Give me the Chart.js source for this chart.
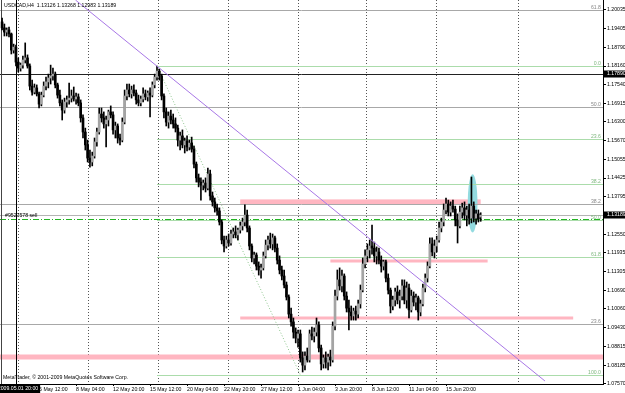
<!DOCTYPE html>
<html>
<head>
<meta charset="utf-8">
<script src="https://cdn.jsdelivr.net/npm/chart.js@4.4.0/dist/chart.umd.min.js"></script>
<style>
  html, body { margin: 0; padding: 0; background: #fff; }
  canvas { display: block; }
</style>
</head>
<body>
<canvas id="grafico" width="625" height="393"></canvas>
<script>
// USDCAD H4, una vela por indice (0 = 2009.05.01 00:00)
const barOpen = [
  1.1963, 1.1943, 1.1929, 1.1936, 1.1923, 1.1869, 1.1879, 1.1829, 1.1809, 1.1819,
  1.1836, 1.1843, 1.1816, 1.1749, 1.1729, 1.1743, 1.1723, 1.1689, 1.1719, 1.1749,
  1.1763, 1.1776, 1.1783, 1.1789, 1.1753, 1.1719, 1.1693, 1.1669, 1.1696, 1.1703,
  1.1709, 1.1716, 1.1706, 1.1713, 1.1693, 1.1643, 1.1596, 1.1553, 1.1509, 1.1496,
  1.1516, 1.1563, 1.1596, 1.1656, 1.1643, 1.1623, 1.1636, 1.1663, 1.1653, 1.1603,
  1.1616, 1.1576, 1.1569, 1.1629, 1.1716, 1.1736, 1.1723, 1.1736, 1.1726, 1.1703,
  1.1693, 1.1706, 1.1723, 1.1713, 1.1726, 1.1719, 1.1753, 1.1779, 1.1799, 1.1783,
  1.1716, 1.1663, 1.1629, 1.1649, 1.1636, 1.1623, 1.1609, 1.1569, 1.1583, 1.1553,
  1.1566, 1.1546, 1.1559, 1.1539, 1.1489, 1.1443, 1.1429, 1.1419, 1.1426, 1.1409,
  1.1456, 1.1383, 1.1363, 1.1343, 1.1333, 1.1296, 1.1236, 1.1216, 1.1236, 1.1226,
  1.1256, 1.1263, 1.1253, 1.1269, 1.1283, 1.1296, 1.1319, 1.1276, 1.1216, 1.1176,
  1.1186, 1.1149, 1.1136, 1.1143, 1.1183, 1.1219, 1.1236, 1.1223, 1.1243, 1.1209,
  1.1169, 1.1136, 1.1116, 1.1086, 1.1046, 1.0989, 1.0963, 1.0929, 1.0909, 1.0923,
  1.0843, 1.0819, 1.0849, 1.0836, 1.0923, 1.0916, 1.0929, 1.0953, 1.0876, 1.0823,
  1.0843, 1.0829, 1.0846, 1.0836, 1.0949, 1.1049, 1.1103, 1.1083, 1.1116, 1.1049,
  1.1009, 1.0996, 1.0983, 1.0999, 1.0989, 1.1023, 1.1069, 1.1156, 1.1183, 1.1203,
  1.1216, 1.1209, 1.1183, 1.1196, 1.1169, 1.1149, 1.1163, 1.1109, 1.1069, 1.1016,
  1.1036, 1.1063, 1.1036, 1.1049, 1.1083, 1.1036, 1.1076, 1.1003, 1.1049, 1.1029,
  1.1043, 1.0996, 1.1023, 1.1076, 1.1109, 1.1149, 1.1223, 1.1196, 1.1216, 1.1236,
  1.1276, 1.1296, 1.1336, 1.1356, 1.1329, 1.1349, 1.1339, 1.1303, 1.1283, 1.1329,
  1.1343, 1.1319, 1.1336, 1.1309, 1.1349, 1.1309, 1.1323, 1.13126
];
const barHigh = [
  1.1976, 1.1956, 1.1943, 1.1946, 1.1926, 1.1889, 1.1886, 1.1843, 1.1826, 1.1849,
  1.1893, 1.1853, 1.1823, 1.1769, 1.1756, 1.1753, 1.1729, 1.1729, 1.1763, 1.1779,
  1.1789, 1.1819, 1.1809, 1.1796, 1.1759, 1.1736, 1.1703, 1.1709, 1.1716, 1.1759,
  1.1736, 1.1746, 1.1726, 1.1723, 1.1703, 1.1653, 1.1609, 1.1569, 1.1536, 1.1529,
  1.1576, 1.1609, 1.1676, 1.1676, 1.1663, 1.1649, 1.1669, 1.1683, 1.1663, 1.1629,
  1.1623, 1.1589, 1.1643, 1.1736, 1.1756, 1.1756, 1.1749, 1.1753, 1.1736, 1.1719,
  1.1716, 1.1743, 1.1736, 1.1733, 1.1743, 1.1763, 1.1789, 1.1816, 1.1806, 1.1789,
  1.1723, 1.1676, 1.1663, 1.1669, 1.1656, 1.1643, 1.1619, 1.1596, 1.1603, 1.1576,
  1.1583, 1.1569, 1.1579, 1.1549, 1.1496, 1.1456, 1.1443, 1.1436, 1.1443, 1.1476,
  1.1469, 1.1396, 1.1376, 1.1356, 1.1343, 1.1303, 1.1249, 1.1249, 1.1256, 1.1269,
  1.1276, 1.1283, 1.1276, 1.1296, 1.1309, 1.1353, 1.1336, 1.1283, 1.1223, 1.1196,
  1.1193, 1.1163, 1.1156, 1.1196, 1.1236, 1.1249, 1.1259, 1.1256, 1.1249, 1.1223,
  1.1183, 1.1149, 1.1136, 1.1096, 1.1053, 1.1009, 1.0976, 1.0943, 1.0936, 1.0936,
  1.0863, 1.0863, 1.0876, 1.0936, 1.0946, 1.0943, 1.0976, 1.0963, 1.0886, 1.0853,
  1.0863, 1.0856, 1.0869, 1.0963, 1.1069, 1.1136, 1.1143, 1.1136, 1.1123, 1.1063,
  1.1036, 1.1016, 1.1009, 1.1016, 1.1036, 1.1086, 1.1176, 1.1203, 1.1223, 1.1236,
  1.1286, 1.1229, 1.1213, 1.1209, 1.1183, 1.1169, 1.1169, 1.1123, 1.1076, 1.1049,
  1.1076, 1.1083, 1.1069, 1.1103, 1.1103, 1.1096, 1.1089, 1.1069, 1.1063, 1.1056,
  1.1049, 1.1036, 1.1089, 1.1123, 1.1163, 1.1243, 1.1243, 1.1236, 1.1249, 1.1296,
  1.1309, 1.1356, 1.1376, 1.1369, 1.1363, 1.1369, 1.1349, 1.1323, 1.1349, 1.1359,
  1.1363, 1.1349, 1.1356, 1.1446, 1.1363, 1.1336, 1.1336, 1.13268
];
const barLow = [
  1.1936, 1.1916, 1.1916, 1.1913, 1.1856, 1.1859, 1.1816, 1.1796, 1.1799, 1.1809,
  1.1826, 1.1809, 1.1736, 1.1719, 1.1723, 1.1716, 1.1676, 1.1683, 1.1713, 1.1736,
  1.1743, 1.1756, 1.1769, 1.1743, 1.1709, 1.1683, 1.1636, 1.1659, 1.1679, 1.1689,
  1.1696, 1.1699, 1.1689, 1.1683, 1.1629, 1.1576, 1.1536, 1.1496, 1.1479, 1.1483,
  1.1509, 1.1549, 1.1589, 1.1629, 1.1609, 1.1546, 1.1616, 1.1643, 1.1589, 1.1576,
  1.1559, 1.1553, 1.1563, 1.1623, 1.1703, 1.1713, 1.1709, 1.1716, 1.1689, 1.1683,
  1.1683, 1.1696, 1.1703, 1.1699, 1.1646, 1.1713, 1.1743, 1.1769, 1.1769, 1.1703,
  1.1643, 1.1616, 1.1609, 1.1623, 1.1609, 1.1596, 1.1549, 1.1536, 1.1543, 1.1526,
  1.1533, 1.1536, 1.1529, 1.1476, 1.1429, 1.1413, 1.1369, 1.1403, 1.1396, 1.1403,
  1.1369, 1.1349, 1.1329, 1.1319, 1.1286, 1.1223, 1.1196, 1.1209, 1.1216, 1.1219,
  1.1243, 1.1243, 1.1236, 1.1259, 1.1269, 1.1283, 1.1263, 1.1203, 1.1163, 1.1156,
  1.1136, 1.1119, 1.1109, 1.1136, 1.1176, 1.1203, 1.1209, 1.1203, 1.1196, 1.1156,
  1.1123, 1.1103, 1.1076, 1.1036, 1.0976, 1.0949, 1.0909, 1.0893, 1.0879, 1.0829,
  1.0796, 1.0803, 1.0829, 1.0829, 1.0903, 1.0896, 1.0916, 1.0863, 1.0803, 1.0809,
  1.0809, 1.0803, 1.0816, 1.0829, 1.0936, 1.1036, 1.1069, 1.1063, 1.1036, 1.0996,
  1.0936, 1.0969, 1.0969, 1.0969, 1.0976, 1.1009, 1.1063, 1.1143, 1.1163, 1.1176,
  1.1189, 1.1163, 1.1156, 1.1156, 1.1129, 1.1136, 1.1096, 1.1056, 1.0993, 1.1003,
  1.1016, 1.1023, 1.1009, 1.1036, 1.1023, 1.1009, 1.0976, 1.0996, 1.1016, 1.1003,
  1.0969, 1.0983, 1.1016, 1.1063, 1.1096, 1.1143, 1.1183, 1.1176, 1.1196, 1.1229,
  1.1263, 1.1283, 1.1323, 1.1316, 1.1316, 1.1329, 1.1283, 1.1226, 1.1276, 1.1309,
  1.1303, 1.1283, 1.1289, 1.1293, 1.1296, 1.1289, 1.1296, 1.12983
];
const barClose = [
  1.1943, 1.1929, 1.1936, 1.1923, 1.1869, 1.1879, 1.1829, 1.1809, 1.1819, 1.1836,
  1.1843, 1.1816, 1.1749, 1.1729, 1.1743, 1.1723, 1.1689, 1.1719, 1.1749, 1.1763,
  1.1776, 1.1783, 1.1789, 1.1753, 1.1719, 1.1693, 1.1669, 1.1696, 1.1703, 1.1709,
  1.1716, 1.1706, 1.1713, 1.1693, 1.1643, 1.1596, 1.1553, 1.1509, 1.1496, 1.1516,
  1.1563, 1.1596, 1.1656, 1.1643, 1.1623, 1.1636, 1.1663, 1.1653, 1.1603, 1.1616,
  1.1576, 1.1569, 1.1629, 1.1716, 1.1736, 1.1723, 1.1736, 1.1726, 1.1703, 1.1693,
  1.1706, 1.1723, 1.1713, 1.1726, 1.1719, 1.1753, 1.1779, 1.1799, 1.1783, 1.1716,
  1.1663, 1.1629, 1.1649, 1.1636, 1.1623, 1.1609, 1.1569, 1.1583, 1.1553, 1.1566,
  1.1546, 1.1559, 1.1539, 1.1489, 1.1443, 1.1429, 1.1419, 1.1426, 1.1409, 1.1456,
  1.1383, 1.1363, 1.1343, 1.1333, 1.1296, 1.1236, 1.1216, 1.1236, 1.1226, 1.1256,
  1.1263, 1.1253, 1.1269, 1.1283, 1.1296, 1.1319, 1.1276, 1.1216, 1.1176, 1.1186,
  1.1149, 1.1136, 1.1143, 1.1183, 1.1219, 1.1236, 1.1223, 1.1243, 1.1209, 1.1169,
  1.1136, 1.1116, 1.1086, 1.1046, 1.0989, 1.0963, 1.0929, 1.0909, 1.0923, 1.0843,
  1.0819, 1.0849, 1.0836, 1.0923, 1.0916, 1.0929, 1.0953, 1.0876, 1.0823, 1.0843,
  1.0829, 1.0846, 1.0836, 1.0949, 1.1049, 1.1103, 1.1083, 1.1116, 1.1049, 1.1009,
  1.0996, 1.0983, 1.0999, 1.0989, 1.1023, 1.1069, 1.1156, 1.1183, 1.1203, 1.1216,
  1.1209, 1.1183, 1.1196, 1.1169, 1.1149, 1.1163, 1.1109, 1.1069, 1.1016, 1.1036,
  1.1063, 1.1036, 1.1049, 1.1083, 1.1036, 1.1076, 1.1003, 1.1049, 1.1029, 1.1043,
  1.0996, 1.1023, 1.1076, 1.1109, 1.1149, 1.1223, 1.1196, 1.1216, 1.1236, 1.1276,
  1.1296, 1.1336, 1.1356, 1.1329, 1.1349, 1.1339, 1.1303, 1.1283, 1.1329, 1.1343,
  1.1319, 1.1336, 1.1309, 1.1349, 1.1309, 1.1323, 1.1306, 1.13189
];

const timeLabels = ["5 May 12:00", "8 May 04:00", "12 May 20:00", "15 May 12:00", "20 May 04:00", "22 May 20:00",
  "27 May 12:00", "1 Jun 04:00", "3 Jun 20:00", "8 Jun 12:00", "11 Jun 04:00", "15 Jun 20:00"];
const timeLabelBars = [16, 32, 48, 64, 80, 96, 112, 128, 144, 160, 176, 192];
const priceTicks = [1.20035, 1.19405, 1.18790, 1.18160, 1.17540, 1.16915, 1.16300, 1.15670, 1.15055, 1.14425,
  1.13795, 1.12550, 1.11935, 1.11305, 1.10690, 1.10060, 1.09430, 1.08815, 1.08185, 1.07570];
const gridBars = [6.9, 37.1, 67.4, 97.7, 128, 157.4, 187.6, 223.1];

const titulo = "USDCAD,H4  1.13126 1.13268 1.12983 1.13189";
const copyright = "MetaTrader, \u00a9 2001-2009 MetaQuotes Software Corp.";

const hLinePrice = 1.17890;
const bidPrice = 1.13189;
const orderPrice = 1.1306;
const orderLabel = "#9527578 sell";
const vLineBar = 6;
const vLineLabel = "2009.05.01 20:00";

// fibo gris (anclas fuera de la vista) y fibo verde (del maximo al minimo)
const fibGrayLow = 1.0309;
const fibGrayHigh = 1.3049;
const fibGrayLevels = [23.6, 38.2, 50.0, 61.8];
const fibGreenTop = 1.1816;
const fibGreenBottom = 1.0786;
const fibGreenBars = [67, 129];
const fibGreenLevels = [0, 23.6, 38.2, 50.0, 61.8, 100];

// linea de tendencia
const trendBars = [67.4, 234.8];
const trendPrices = [1.1813, 1.0766];

// zonas rosas
const zonePrices = [1.1363, 1.1166, 1.0976, 1.0846];
const zoneFrom = [103, 142, 103, -1];
const zoneTo = [207, 210, 247, 262];

// elipse
const ellipseBars = [201.4, 205.6];
const ellipsePrices = [1.1455, 1.1261];

const fuente = "Liberation Sans";
const tam = 5.2;
const zoneWidths = [5, 3, 3, 5];

function linea(ctx, x1, y1, x2, y2, color, ancho, dash) {
  ctx.beginPath();
  ctx.strokeStyle = color;
  ctx.lineWidth = ancho;
  ctx.setLineDash(dash || []);
  ctx.moveTo(x1, y1);
  ctx.lineTo(x2, y2);
  ctx.stroke();
}

function fibPrice(a, b, lvl) {
  return a + (b - a) * lvl / 100;
}

const dibujos = {
  id: "dibujos",
  beforeDatasetsDraw(chart) {
    const { ctx, chartArea: a, scales: { x, y } } = chart;
    ctx.save();
    ctx.beginPath();
    ctx.rect(a.left, a.top, a.right - a.left, a.bottom - a.top);
    ctx.clip();

    gridBars.forEach((b) => {
      const px = Math.round(x.getPixelForValue(b)) + 0.5;
      linea(ctx, px, a.top, px, a.bottom, "#555", 1, [1, 2]);
    });

    zonePrices.forEach((p, i) => {
      const py = y.getPixelForValue(p);
      const x1 = x.getPixelForValue(zoneFrom[i]);
      const x2 = x.getPixelForValue(zoneTo[i]);
      ctx.fillStyle = "#ffb6c1";
      ctx.fillRect(x1, py - zoneWidths[i] / 2, x2 - x1, zoneWidths[i]);
    });

    const ex1 = x.getPixelForValue(ellipseBars[0]);
    const ex2 = x.getPixelForValue(ellipseBars[1]);
    const ey1 = y.getPixelForValue(ellipsePrices[0]);
    const ey2 = y.getPixelForValue(ellipsePrices[1]);
    ctx.beginPath();
    ctx.fillStyle = "#93dbe0";
    ctx.ellipse((ex1 + ex2) / 2, (ey1 + ey2) / 2, (ex2 - ex1) / 2, (ey2 - ey1) / 2, 0, 0, Math.PI * 2);
    ctx.fill();

    fibGrayLevels.forEach((lvl) => {
      const py = Math.round(y.getPixelForValue(fibPrice(fibGrayLow, fibGrayHigh, lvl))) + 0.5;
      linea(ctx, a.left, py, a.right, py, "#a8a8a8", 1);
    });
    const gx = x.getPixelForValue(fibGreenBars[0]);
    fibGreenLevels.forEach((lvl) => {
      const py = Math.round(y.getPixelForValue(fibPrice(fibGreenTop, fibGreenBottom, lvl))) + 0.5;
      linea(ctx, gx, py, a.right, py, "#abdcab", 1);
    });
    linea(ctx, gx, y.getPixelForValue(fibGreenTop), x.getPixelForValue(fibGreenBars[1]),
      y.getPixelForValue(fibGreenBottom), "#8cc48c", 1, [1, 2]);

    let py = Math.round(y.getPixelForValue(hLinePrice)) + 0.5;
    linea(ctx, a.left, py, a.right, py, "#222", 1);
    py = Math.round(y.getPixelForValue(bidPrice)) + 0.5;
    linea(ctx, a.left, py, a.right, py, "#b4b4b4", 1);
    py = Math.round(y.getPixelForValue(orderPrice)) + 0.5;
    linea(ctx, a.left, py, a.right, py, "#22b422", 1, [6, 2, 1, 2]);

    const vx = Math.round(x.getPixelForValue(vLineBar)) + 0.5;
    linea(ctx, vx, a.top, vx, a.bottom, "#000", 1);
    linea(ctx, a.left + 1.5, a.top, a.left + 1.5, a.bottom, "#444", 1);
    ctx.restore();
  },
  afterDatasetsDraw(chart) {
    const { ctx, chartArea: a, scales: { x, y } } = chart;
    ctx.save();
    ctx.beginPath();
    ctx.rect(a.left, a.top, a.right - a.left, a.bottom - a.top);
    ctx.clip();

    const px1 = x.getPixelForValue(trendBars[0]);
    const py1 = y.getPixelForValue(trendPrices[0]);
    const px2 = x.getPixelForValue(trendBars[1]);
    const py2 = y.getPixelForValue(trendPrices[1]);
    const k = (py2 - py1) / (px2 - px1);
    linea(ctx, px1 + (a.top - py1) / k, a.top, px2, py2, "#a877e6", 1);

    ctx.font = tam + "px '" + fuente + "'";
    ctx.textAlign = "right";
    ctx.textBaseline = "bottom";
    fibGrayLevels.forEach((lvl) => {
      const py = y.getPixelForValue(fibPrice(fibGrayLow, fibGrayHigh, lvl));
      ctx.fillStyle = "#888";
      ctx.fillText(lvl.toFixed(1), a.right - 2, py);
    });
    fibGreenLevels.forEach((lvl) => {
      const py = y.getPixelForValue(fibPrice(fibGreenTop, fibGreenBottom, lvl));
      ctx.fillStyle = "#80b880";
      ctx.fillText(lvl.toFixed(1), a.right - 2, py);
    });

    ctx.textAlign = "left";
    ctx.fillStyle = "#000";
    ctx.fillText(orderLabel, a.left + 5, y.getPixelForValue(orderPrice) - 1);
    ctx.textBaseline = "middle";
    ctx.fillText(titulo, a.left + 4, a.top + 5.5);
    ctx.fillText(copyright, a.left + 3, a.bottom - 6);
    ctx.restore();
  },
  afterDraw(chart) {
    const { ctx, chartArea: a, scales: { x, y } } = chart;
    ctx.save();
    ctx.font = tam + "px '" + fuente + "'";
    ctx.textBaseline = "middle";
    ctx.textAlign = "left";
    [hLinePrice, bidPrice].forEach((p) => {
      const py = Math.round(y.getPixelForValue(p));
      ctx.fillStyle = "#000";
      ctx.fillRect(a.right + 1, py - 3.5, 30, 7);
      ctx.fillStyle = "#fff";
      ctx.fillText(p.toFixed(5), a.right + 4, py);
    });
    const vx = x.getPixelForValue(vLineBar);
    const w = ctx.measureText(vLineLabel).width + 4;
    ctx.fillStyle = "#000";
    ctx.fillRect(vx + 2 - w / 2, a.bottom + 1, w, 8);
    ctx.fillStyle = "#fff";
    ctx.fillText(vLineLabel, vx + 4 - w / 2, a.bottom + 5);
    ctx.restore();
  }
};

const indices = barOpen.map((_, i) => i);
const mechas = indices.map((i) => ({ x: i, y: [barLow[i], barHigh[i]] }));
const cuerpos = indices.map((i) => ({ x: i, y: [barOpen[i], barClose[i]] }));
const coloresCuerpo = indices.map((i) => (barClose[i] >= barOpen[i] ? "#a4a4a4" : "#000000"));

const chart = new Chart(document.getElementById("grafico"), {
  type: "bar",
  data: {
    datasets: [
      { data: mechas, backgroundColor: "#000", barThickness: 1, grouped: false, order: 2 },
      { data: cuerpos, backgroundColor: coloresCuerpo, barThickness: 2, minBarLength: 1, grouped: false, order: 1 },
    ],
  },
  options: {
    responsive: false,
    animation: false,
    devicePixelRatio: 1,
    layout: { padding: 0 },
    plugins: { legend: { display: false }, tooltip: { enabled: false } },
    scales: {
      x: {
        type: "linear",
        min: -0.9,
        max: 259.9,
        offset: false,
        afterBuildTicks: (s) => { s.ticks = timeLabelBars.map((v) => ({ value: v })); },
        afterFit: (s) => { s.height = 9; s.paddingLeft = 0; s.paddingRight = 0; },
        ticks: {
          autoSkip: false,
          maxRotation: 0,
          align: "start",
          padding: 0,
          color: "#000",
          font: { family: fuente, size: tam },
          callback: (v) => timeLabels[timeLabelBars.indexOf(v)],
        },
        grid: { drawOnChartArea: false, tickLength: 2, color: "#000", offset: false },
        border: { color: "#000" },
      },
      y: {
        position: "right",
        min: 1.0756,
        max: 1.2036,
        afterBuildTicks: (s) => { s.ticks = priceTicks.map((v) => ({ value: v })); },
        afterFit: (s) => { s.width = 22; s.paddingTop = 0; s.paddingBottom = 0; },
        ticks: {
          autoSkip: false,
          padding: 1,
          color: "#000",
          font: { family: fuente, size: tam },
          callback: (v) => v.toFixed(5),
        },
        grid: { drawOnChartArea: false, tickLength: 3, color: "#000" },
        border: { color: "#000" },
      },
    },
  },
  plugins: [dibujos],
});
</script>
</body>
</html>
